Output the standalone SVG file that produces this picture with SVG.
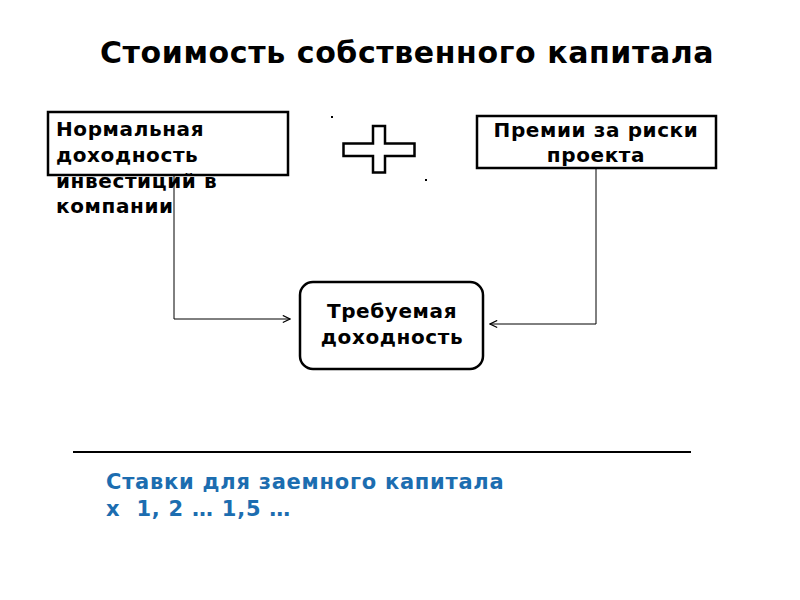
<svg xmlns="http://www.w3.org/2000/svg" width="800" height="600" viewBox="0 0 800 600">
<style>
text{font-family:"DejaVu Sans","Noto Sans",sans-serif;font-weight:bold;fill:#000}
.t{font-size:30px;letter-spacing:0.6px}
.n{font-size:20px;letter-spacing:0.6px}
.b{font-size:21px;fill:#1c6db0;letter-spacing:0.75px}
.box{fill:#fff;stroke:#000;stroke-width:2.5}
.ln{fill:none;stroke:#000;stroke-width:1}
</style>
<defs>
<marker id="ar" viewBox="0 0 10 10" refX="9" refY="5" markerWidth="9" markerHeight="9" markerUnits="userSpaceOnUse" orient="auto">
<path d="M1,1 L9,5 L1,9" fill="none" stroke="#000" stroke-width="1.3"/>
</marker>
</defs>
<rect width="800" height="600" fill="#fff"/>
<text class="t" x="100" y="63">Стоимость собственного капитала</text>
<g id="connectors">
<path class="ln" d="M174,175 V319 H290" marker-end="url(#ar)"/>
<path class="ln" d="M596,168 V324 H490" marker-end="url(#ar)"/>
</g>
<g id="n1">
<rect class="box" x="48" y="112" width="240" height="63"/>
<text class="n" x="56" y="136">Нормальная</text>
<text class="n" x="56" y="162">доходность</text>
<text class="n" x="56" y="188">инвестиций в</text>
<text class="n" x="56" y="213">компании</text>
</g>
<g id="plus">
<path d="M373,126 H385 V143.5 H414.5 V156 H385 V172.5 H373 V156 H343.5 V143.5 H373 Z" fill="#fff" stroke="#000" stroke-width="2.5"/>
<rect x="331" y="116" width="2" height="2" fill="#000"/>
<rect x="425" y="179" width="2" height="2" fill="#000"/>
</g>
<g id="n2">
<rect class="box" x="477" y="116" width="239" height="52"/>
<text class="n" x="596" y="137" text-anchor="middle">Премии за риски</text>
<text class="n" x="596" y="162" text-anchor="middle">проекта</text>
</g>
<g id="n3">
<rect class="box" x="300" y="282" width="183" height="87" rx="13"/>
<text class="n" x="392" y="318" text-anchor="middle">Требуемая</text>
<text class="n" x="392" y="344" text-anchor="middle">доходность</text>
</g>
<line x1="73" y1="452" x2="691" y2="452" stroke="#000" stroke-width="2"/>
<text class="b" x="106" y="489">Ставки для заемного капитала</text>
<text class="b" x="106" y="516" xml:space="preserve">x  1, 2 … 1,5 …</text>
</svg>
